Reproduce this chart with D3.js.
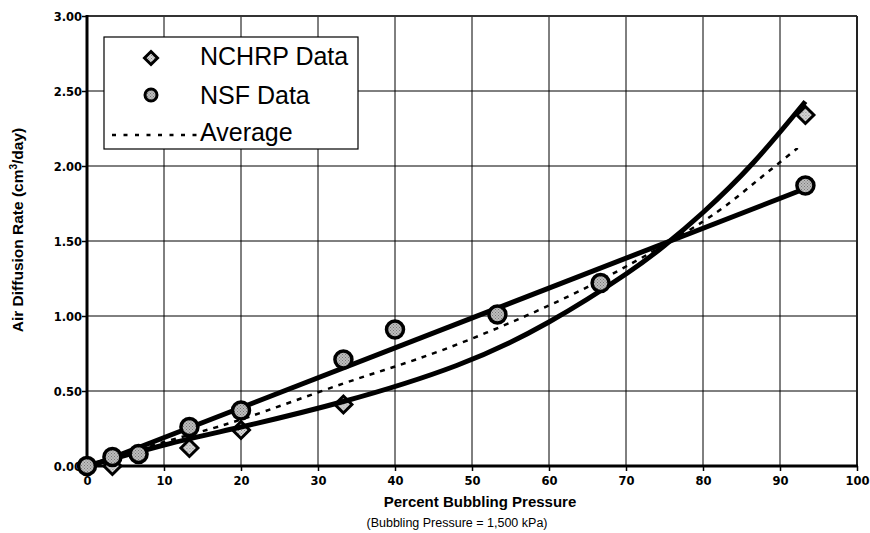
<!DOCTYPE html>
<html>
<head>
<meta charset="utf-8">
<script src="https://cdn.jsdelivr.net/npm/d3@7"></script>
<style>
  html, body { margin: 0; padding: 0; background: #fff; }
  svg { display: block; font-family: "Liberation Sans", Arial, sans-serif; }
</style>
</head>
<body>
<svg id="chart" width="870" height="533"></svg>
<script>
// ---- data ----
const xTicks = [0, 10, 20, 30, 40, 50, 60, 70, 80, 90, 100];
const yTicks = [0, 0.5, 1.0, 1.5, 2.0, 2.5, 3.0];

const nchrpX = [3.3, 13.3, 20, 33.3, 93.3];
const nchrpY = [0.00, 0.12, 0.24, 0.41, 2.34];

const nsfX = [0, 3.3, 6.7, 13.3, 20, 33.3, 40, 53.3, 66.7, 93.3];
const nsfY = [0.00, 0.06, 0.08, 0.26, 0.37, 0.71, 0.91, 1.01, 1.22, 1.87];

// trend lines
const nsfTrendX = [0, 93.3];
const nsfTrendY = [-0.01, 1.85];

const nchrpTrendX = [0, 10, 20, 33.3, 48, 60, 70, 75, 80, 86.5, 93.3];
const nchrpTrendY = [0.00, 0.14, 0.26, 0.43, 0.67, 0.96, 1.28, 1.47, 1.69, 2.02, 2.43];

const avgTrendX = [0, 10, 20, 33.3, 46, 60, 70, 80, 86.5, 92.3];
const avgTrendY = [0.00, 0.16, 0.31, 0.55, 0.77, 1.07, 1.33, 1.63, 1.88, 2.12];

const legendLabels = ["NCHRP Data", "NSF Data", "Average"];

// ---- layout ----
const svg = d3.select("#chart");
const L = 87, R = 857, T = 16, B = 466;
const x = d3.scaleLinear().domain([0, 100]).range([L, R]);
const y = d3.scaleLinear().domain([0, 3]).range([B, T]);

// stipple pattern for markers
const defs = svg.append("defs");
function stipple(id, bg, dot) {
  const p = defs.append("pattern").attr("id", id).attr("patternUnits", "userSpaceOnUse")
    .attr("width", 3).attr("height", 3);
  p.append("rect").attr("width", 3).attr("height", 3).attr("fill", bg);
  p.append("rect").attr("x", 0).attr("y", 0).attr("width", 1).attr("height", 1).attr("fill", dot);
  p.append("rect").attr("x", 1.5).attr("y", 1.5).attr("width", 1).attr("height", 1).attr("fill", dot);
}
stipple("stipC", "#bdbdbd", "#777");
stipple("stipD", "#d8d8d8", "#888");

// grid
const grid = svg.append("g");
grid.selectAll("line.v").data(xTicks.slice(1, -1)).join("line")
  .attr("x1", d => x(d)).attr("x2", d => x(d)).attr("y1", T).attr("y2", B)
  .attr("stroke", "#000").attr("stroke-width", 1);
grid.selectAll("line.h").data(yTicks.slice(1, -1)).join("line")
  .attr("x1", L).attr("x2", R).attr("y1", d => y(d)).attr("y2", d => y(d))
  .attr("stroke", "#000").attr("stroke-width", 1);

// axes
const tickFont = "DejaVu Sans, Verdana, sans-serif";
const xAxis = d3.axisBottom(x).tickValues(xTicks).tickSize(5).tickFormat(d3.format("d"));
const gx = svg.append("g").attr("transform", `translate(0,${B})`).call(xAxis);
gx.select(".domain").remove();
gx.selectAll(".tick line").attr("stroke", "#000").attr("stroke-width", 1.5);
gx.selectAll(".tick text").attr("font-size", 11.5).attr("font-weight", "bold")
  .attr("fill", "#000").attr("y", 9).attr("dy", "0.9em").attr("font-family", tickFont);

const yAxis = d3.axisLeft(y).tickValues(yTicks).tickSize(5).tickFormat(d3.format(".2f"));
const gy = svg.append("g").attr("transform", `translate(${L},0)`).call(yAxis);
gy.select(".domain").remove();
gy.selectAll(".tick line").attr("stroke", "#000").attr("stroke-width", 1.5);
gy.selectAll(".tick text").attr("font-size", 11.5).attr("font-weight", "bold")
  .attr("fill", "#000").attr("x", -5).attr("dy", "0.35em").attr("font-family", tickFont);

// plot frame
svg.append("line").attr("x1", L).attr("x2", R).attr("y1", T).attr("y2", T).attr("stroke", "#333").attr("stroke-width", 2);
svg.append("line").attr("x1", R).attr("x2", R).attr("y1", T).attr("y2", B).attr("stroke", "#222").attr("stroke-width", 2);
svg.append("line").attr("x1", L).attr("x2", L).attr("y1", T - 1).attr("y2", B + 1.5).attr("stroke", "#000").attr("stroke-width", 3);
svg.append("line").attr("x1", L).attr("x2", R + 1).attr("y1", B).attr("y2", B).attr("stroke", "#000").attr("stroke-width", 3);

// markers & lines
const line = d3.line().x(d => x(d[0])).y(d => y(d[1]));
const diamondPath = s => `M0,${-s}L${s},0L0,${s}L${-s},0Z`;

const nchrp = d3.zip(nchrpX, nchrpY);
const nsf = d3.zip(nsfX, nsfY);

svg.append("g").selectAll("path").data(nchrp).join("path")
  .attr("transform", d => `translate(${x(d[0])},${y(d[1])})`)
  .attr("d", diamondPath(8.5))
  .attr("fill", "url(#stipD)").attr("stroke", "#000").attr("stroke-width", 3).attr("stroke-linejoin", "miter");

svg.append("path").datum(d3.zip(nchrpTrendX, nchrpTrendY))
  .attr("d", line.curve(d3.curveNatural)).attr("fill", "none").attr("stroke", "#000").attr("stroke-width", 5);
svg.append("path").datum(d3.zip(nsfTrendX, nsfTrendY))
  .attr("d", line.curve(d3.curveLinear)).attr("fill", "none").attr("stroke", "#000").attr("stroke-width", 5);
svg.append("path").datum(d3.zip(avgTrendX, avgTrendY))
  .attr("d", line.curve(d3.curveNatural)).attr("fill", "none").attr("stroke", "#000")
  .attr("stroke-width", 2.5).attr("stroke-dasharray", "5,6");

svg.append("g").selectAll("circle").data(nsf).join("circle")
  .attr("cx", d => x(d[0])).attr("cy", d => y(d[1])).attr("r", 8.5)
  .attr("fill", "url(#stipC)").attr("stroke", "#000").attr("stroke-width", 3.5);

// legend
const lg = svg.append("g");
lg.append("rect").attr("x", 104).attr("y", 37).attr("width", 254).attr("height", 112)
  .attr("fill", "#fff").attr("stroke", "#000").attr("stroke-width", 1.2);
lg.append("path").attr("transform", "translate(151,58)").attr("d", diamondPath(6.5))
  .attr("fill", "url(#stipD)").attr("stroke", "#000").attr("stroke-width", 3);
lg.append("circle").attr("cx", 151).attr("cy", 95).attr("r", 6).attr("fill", "url(#stipC)")
  .attr("stroke", "#000").attr("stroke-width", 3);
lg.append("line").attr("x1", 112).attr("x2", 199).attr("y1", 135).attr("y2", 135)
  .attr("stroke", "#000").attr("stroke-width", 2.5).attr("stroke-dasharray", "4,7.5");
lg.selectAll("text").data(legendLabels).join("text")
  .attr("x", 200).attr("y", (d, i) => [65, 104, 141][i])
  .attr("font-size", 25).attr("fill", "#000").text(d => d);

// axis titles
svg.append("text").attr("x", 480).attr("y", 507).attr("text-anchor", "middle")
  .attr("font-size", 15).attr("font-weight", "bold").text("Percent Bubbling Pressure");
svg.append("text").attr("x", 457).attr("y", 527).attr("text-anchor", "middle")
  .attr("font-size", 12.5).text("(Bubbling Pressure = 1,500 kPa)");

const yt = svg.append("text").attr("transform", "translate(23,230) rotate(-90)")
  .attr("text-anchor", "middle").attr("font-size", 15.5).attr("font-weight", "bold");
yt.append("tspan").text("Air Diffusion Rate (cm");
yt.append("tspan").attr("font-size", 10).attr("dy", -6).text("3");
yt.append("tspan").attr("dy", 6).text("/day)");
</script>
</body>
</html>
